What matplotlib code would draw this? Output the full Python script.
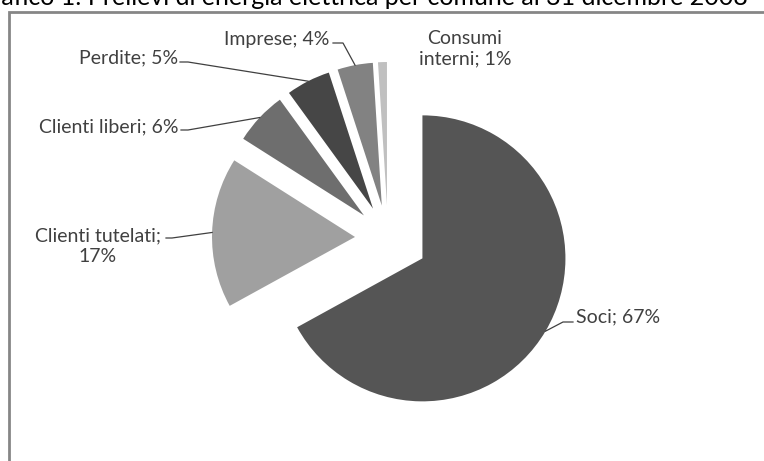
import numpy as np
import matplotlib.pyplot as plt
from matplotlib.patches import Rectangle

# chart data
categories = ["Soci", "Clienti tutelati", "Clienti liberi", "Perdite", "Imprese", "Consumi interni"]
shares = [67, 17, 6, 5, 4, 1]
label_texts = ["Soci; 67%", "Clienti tutelati;\n17%", "Clienti liberi; 6%",
               "Perdite; 5%", "Imprese; 4%", "Consumi\ninterni; 1%"]
colors = ["#555555", "#a0a0a0", "#6e6e6e", "#464646", "#828282", "#c0c0c0"]
title = "Grafico 1: Prelievi di energia elettrica per comune al 31 dicembre 2008"

W, H = 764, 461
R = 143  # pie radius in pixels
explode = [40, 33, 33, 33, 33, 33]  # pixel offsets (pie explode is in data units)

fig = plt.figure(figsize=(W / 100, H / 100), dpi=100)
ax = fig.add_axes([0, 0, 1, 1])

def py(y):
    # pixel row (from top) -> data y
    return H - y

font = "Lato"

wedges, _ = ax.pie(shares, colors=colors, explode=explode, startangle=90,
                   counterclock=False, center=(388, py(238)), radius=R,
                   wedgeprops=dict(linewidth=0), frame=True)
ax.set_xlim(0, W)
ax.set_ylim(0, H)
ax.set_aspect("equal")
ax.axis("off")

# chart frame (runs off the right and bottom edges)
ax.add_patch(Rectangle((9, py(600)), 900, 600 - 11.5, fill=False,
                       edgecolor="#868686", linewidth=2.0))

# label placement: text position, alignment, leader knee/end points (pixels)
label_pos = [(576, 317, "left"), (98, 246, "center"), (109, 127, "center"),
             (129, 58, "center"), (277, 39, "center"), (465, 49, "center")]
leaders = [[(563, 322), (573, 322)],
           [(172, 238), (166, 238)],
           [(188, 130), (181, 130)],
           [(188, 62), (180, 62)],
           [(343, 43), (333, 43)],
           None]

for w, txt, (tx, ty, ha), lead in zip(wedges, label_texts, label_pos, leaders):
    ax.text(tx, py(ty), txt, ha=ha, va="center", fontsize=14, family=font,
            color="#404040", linespacing=1.25)
    if lead is None:
        continue
    mid = np.deg2rad((w.theta1 + w.theta2) / 2)
    cx, cy = w.center
    anchor = (cx + w.r * np.cos(mid), cy + w.r * np.sin(mid))
    xs = [anchor[0]] + [p[0] for p in lead]
    ys = [anchor[1]] + [py(p[1]) for p in lead]
    ax.plot(xs, ys, color="#404040", linewidth=0.9)

# title sits partly above the top edge, as in the source image
ax.text(748, py(5), title, ha="right", va="baseline", fontsize=18,
        family=font, color="black")

fig.savefig("out.png", dpi=100)
